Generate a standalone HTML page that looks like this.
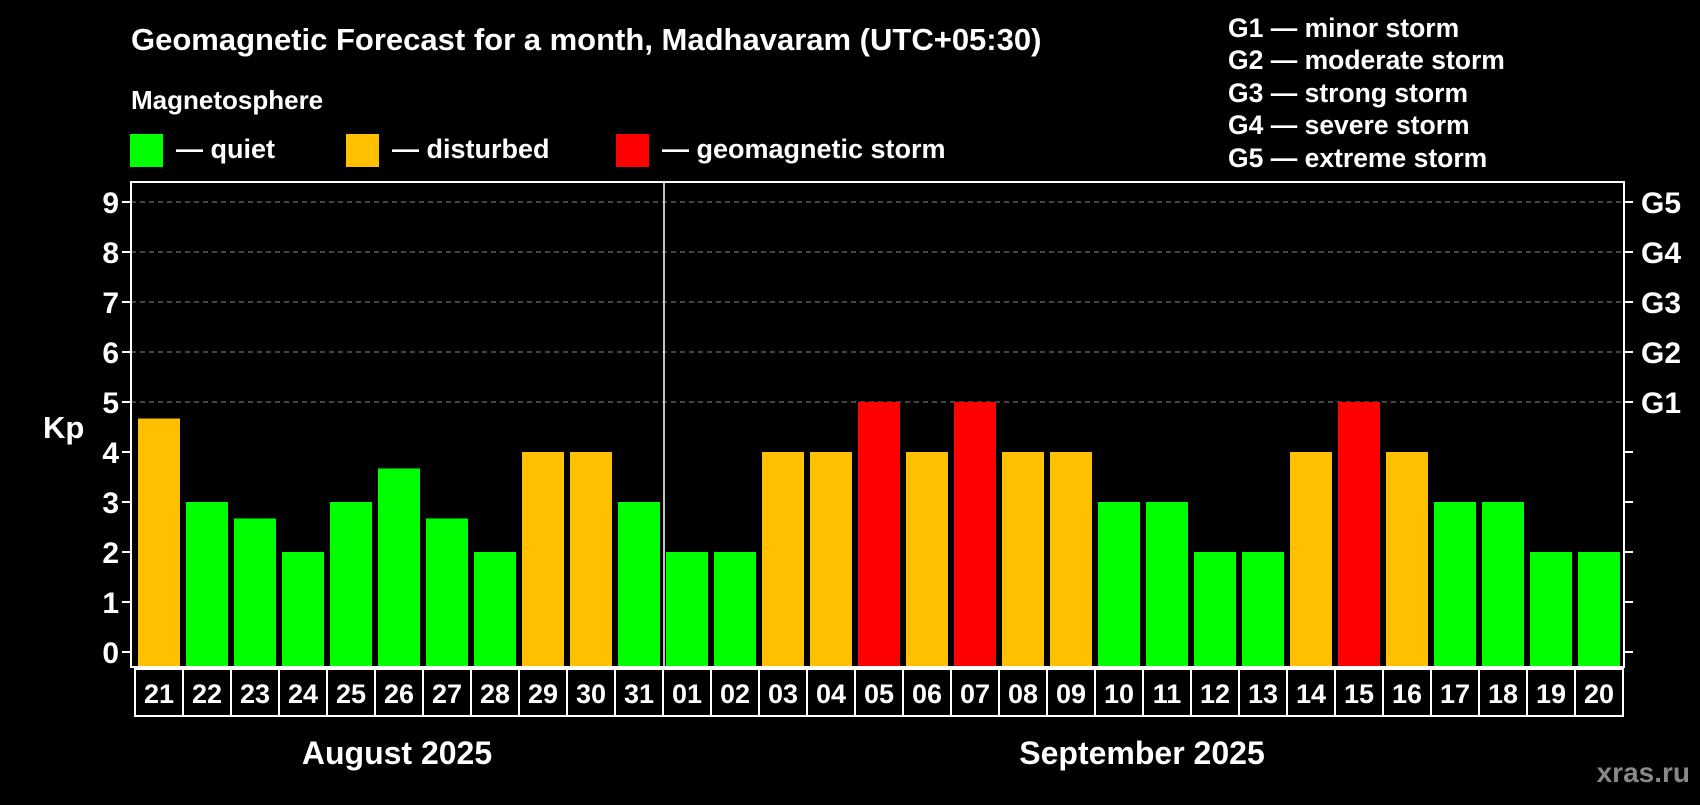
<!DOCTYPE html>
<html><head><meta charset="utf-8"><style>
body{margin:0;background:#000;width:1700px;height:800px;overflow:hidden;font-family:"Liberation Sans",sans-serif;}
svg text{font-family:"Liberation Sans",sans-serif;font-weight:bold;fill:#fff;}
</style></head><body>
<svg id="c" width="1700" height="800">
<text x="131" y="50" font-size="31">Geomagnetic Forecast for a month, Madhavaram (UTC+05:30)</text>
<text x="131" y="109" font-size="26">Magnetosphere</text>
<rect x="130" y="134" width="33" height="33" fill="#00ff00"/>
<text x="176" y="158" font-size="27">— quiet</text>
<rect x="346" y="134" width="33" height="33" fill="#ffc000"/>
<text x="392" y="158" font-size="27">— disturbed</text>
<rect x="616" y="134" width="33" height="33" fill="#ff0000"/>
<text x="662" y="158" font-size="27">— geomagnetic storm</text>
<g font-size="26.5">
<text x="1228" y="37">G1 — minor storm</text>
<text x="1228" y="69">G2 — moderate storm</text>
<text x="1228" y="102">G3 — strong storm</text>
<text x="1228" y="134">G4 — severe storm</text>
<text x="1228" y="167">G5 — extreme storm</text>
</g>
<text x="43" y="438" font-size="31">Kp</text>
<text x="397" y="764" font-size="32" text-anchor="middle">August 2025</text>
<text x="1142" y="764" font-size="32" text-anchor="middle">September 2025</text>
<text x="1690" y="782" font-size="28" text-anchor="end" style="fill:#888">xras.ru</text>
<g id="plot"></g>
</svg>
<script>
const days=["21","22","23","24","25","26","27","28","29","30","31","01","02","03","04","05","06","07","08","09","10","11","12","13","14","15","16","17","18","19","20"];
const kp=[4.67,3,2.67,2,3,3.67,2.67,2,4,4,3,2,2,4,4,5,4,5,4,4,3,3,2,2,4,5,4,3,3,2,2];
const yTicks=[0,1,2,3,4,5,6,7,8,9];
const gLabels=["G1","G2","G3","G4","G5"];
const NS="http://www.w3.org/2000/svg";
const g=document.getElementById('plot');
const L=131,R=1624,T=182,B=667,Y0=652,Y9=202;
const y=v=>Y0-(Y0-Y9)*v/9;
const pitch=48,x0=135;
const x=i=>x0+i*pitch;
function mk(t,a){const e=document.createElementNS(NS,t);for(const k in a)e.setAttribute(k,a[k]);g.appendChild(e);return e;}
yTicks.forEach(v=>{
  if(v>=5){const l=mk('line',{x1:L,x2:R,y1:y(v),y2:y(v),stroke:'#888','stroke-dasharray':'5,4','stroke-width':1});
  
  }
  mk('line',{x1:L-9,x2:L,y1:y(v),y2:y(v),stroke:'#fff','stroke-width':2});
  mk('line',{x1:R,x2:R+9,y1:y(v),y2:y(v),stroke:'#fff','stroke-width':2});
  const t=mk('text',{x:L-12,y:y(v)+11,'font-size':30,'text-anchor':'end'});t.textContent=v;
  
  
});
gLabels.forEach((s,i)=>{const t=mk('text',{x:R+17,y:y(5+i)+11,'font-size':30});t.textContent=s;
  
  });
const col=v=>v>=5?'#ff0000':v>=4?'#ffc000':'#00ff00';
kp.forEach((v,i)=>{
  const r=mk('rect',{x:x(i)+3,y:y(v),width:42,height:B-y(v),fill:col(v)});
  
  
  const b=mk('rect',{x:x(i),y:B+2,width:pitch,height:47,fill:'none',stroke:'#fff','stroke-width':2});
  
  
  const t=mk('text',{x:x(i)+pitch/2,y:B+36,'font-size':27,'text-anchor':'middle'});t.textContent=days[i];
  
  
});
const f=mk('rect',{x:L,y:T,width:R-L,height:B-T,fill:'none',stroke:'#fff','stroke-width':2});


const sep=mk('line',{x1:x(11)+1,x2:x(11)+1,y1:T,y2:B,stroke:'#fff','stroke-width':1.5});


</script>
</body></html>
